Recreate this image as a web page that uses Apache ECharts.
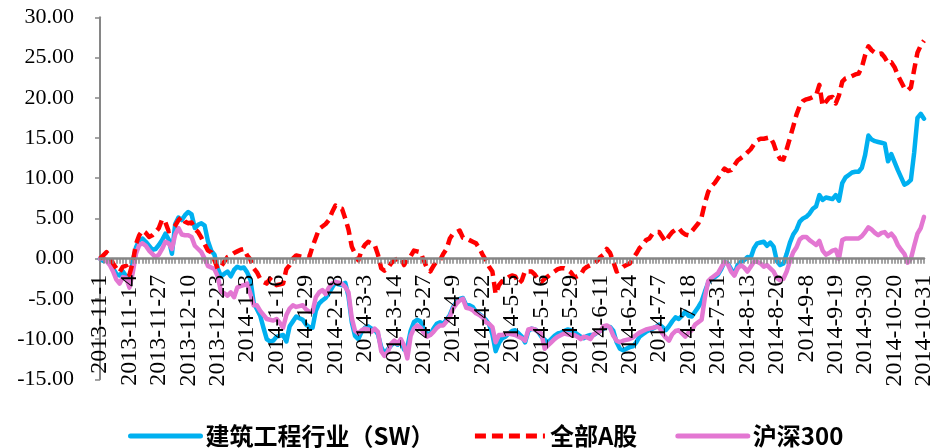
<!DOCTYPE html>
<html>
<head>
<meta charset="utf-8">
<script src="https://cdn.jsdelivr.net/npm/echarts@6/dist/echarts.min.js"></script>
<style>
  html, body { margin: 0; padding: 0; background: #ffffff; }
  #chart { width: 942px; height: 448px; }
</style>
</head>
<body>
<div id="chart"></div>
<script>
// Dates shown on the category axis (one every 9 trading days)
const tickLabels = ['2013-11-1','2013-11-14','2013-11-27','2013-12-10','2013-12-23','2014-1-3','2014-1-16','2014-1-29','2014-2-18','2014-3-3','2014-3-14','2014-3-27','2014-4-9','2014-4-22','2014-5-5','2014-5-16','2014-5-29','2014-6-11','2014-6-24','2014-7-7','2014-7-18','2014-7-31','2014-8-13','2014-8-26','2014-9-8','2014-9-19','2014-9-30','2014-10-20','2014-10-31'];

const seriesNames = ['建筑工程行业（SW）', '全部A股', '沪深300'];

// Cumulative return (%) — construction & engineering index (SW)
const construction = [
  0, -0.3, -0.2, -0.6, -1.2, -1.9, -2.1, -1.6, -2.2, -2.8,
  -0.4, 1.4, 2.3, 2.5, 2.1, 1.6, 1.1, 1.2, 1.7, 2.3,
  3.1, 2.4, 0.6, 4.3, 5.1, 4.8, 5.4, 5.8, 5.5, 3.8,
  4.2, 4.4, 4.1, 2.2, 1.0, 0.5, -1.2, -2.2, -1.9, -1.6,
  -2.2, -1.4, -1.0, -1.2, -1.1, -1.7, -2.6, -5.5, -6.3, -7.1,
  -8.6, -10.0, -10.3, -10.2, -9.7, -9.6, -9.5, -10.3, -8.4, -7.8,
  -7.2, -7.4, -7.6, -8.2, -8.5, -8.6, -6.5, -5.6, -5.2, -4.9,
  -4.3, -3.6, -2.9, -3.2, -3.3, -3.0, -4.7, -7.9, -9.6, -10.0,
  -9.1, -8.6, -8.4, -8.7, -8.8, -9.4, -11.0, -11.8, -11.3, -10.8,
  -10.4, -10.7, -10.2, -11.3, -11.0, -9.0, -7.9, -7.6, -7.8, -8.7,
  -9.3, -9.4, -8.7, -8.1, -7.9, -8.1, -7.6, -7.0, -6.0, -5.4,
  -5.0, -4.9, -5.8, -5.8, -6.0, -6.6, -6.9, -7.2, -7.6, -8.2,
  -9.4, -11.5, -10.5, -9.9, -9.7, -9.3, -9.0, -8.9, -9.3, -9.7,
  -10.4, -9.0, -8.7, -8.8, -9.1, -9.7, -10.1, -10.4, -10.0, -9.6,
  -9.3, -9.2, -9.0, -8.8, -8.9, -9.1, -9.4, -9.7, -9.9, -9.6,
  -9.5, -9.5, -9.2, -9.0, -8.7, -8.5, -8.5, -9.0, -10.4, -11.2,
  -11.4, -11.2, -11.0, -10.9, -10.4, -9.7, -9.4, -9.1, -8.9, -8.7,
  -8.5, -8.2, -8.5, -8.9, -8.4, -7.8, -7.3, -7.5, -7.1, -6.6,
  -7.1, -7.2, -6.6, -6.0, -5.3, -4.1, -3.0, -2.5, -2.3, -2.0,
  -1.3, -0.4, -0.6, -1.3, -2.0, -0.8, -0.4, -0.2, 0.2, 0.1,
  1.3, 1.9, 2.0, 2.1, 1.6, 2.0, 1.5, -0.3, -0.8, -0.6,
  0.6, 2.0, 3.0, 3.6, 4.6, 5.0, 5.2, 5.6, 6.2, 6.5,
  7.9, 7.3, 7.6, 7.5, 7.4, 7.9, 7.2, 9.4, 10.1, 10.4,
  10.7, 10.8, 10.8, 11.3, 12.9, 15.3, 14.8, 14.6, 14.5, 14.4,
  14.3, 12.1, 13.0, 12.0, 11.0, 10.1, 9.2, 9.4, 9.8, 13.2,
  17.5, 18.0, 17.4
];

// Cumulative return (%) — all A shares
const allAShares = [
  0, 0.4, 0.8, 0.3, -0.6, -1.2, -1.7, -1.0, -0.9, -2.0,
  -0.5, 1.8, 2.9, 3.5, 3.2, 2.7, 2.9, 3.3, 3.8, 4.9,
  4.5, 3.4, 3.6, 4.1, 4.8, 5.2, 4.6, 4.4, 4.5, 3.7,
  3.3, 2.6, 1.8, 1.0, 0.8, -0.2, -1.3, -1.0, -0.4, 0.2,
  0.4, 0.7, 0.9, 1.1, 1.2, 0.4, -0.1, -1.2, -1.7, -2.5,
  -2.9, -3.1, -2.5, -3.0, -3.3, -3.2, -3.1, -1.3, -0.8, 0,
  0.4, 0.3, 0.2, 0.3, 0.2, 1.5, 2.6, 3.7, 4.0, 4.3,
  4.8, 5.8, 6.6, 6.3, 6.2, 5.0, 3.6, 1.5, 0.6, -0.2,
  1.0, 1.7, 2.1, 1.9, 1.7, 0.5, -1.2, -1.5, -1.2, -0.6,
  -0.2, 0, 0.1, -0.8, 0, 0.3, 1.0, 0.9, 0.8, -0.2,
  -1.2, -1.6, -0.9, -0.3, -0.2, 0.6, 1.2, 2.5, 3.1, 3.3,
  3.5, 2.6, 2.5, 2.3, 2.1, 1.9, 1.3, 0.5, -0.2, -1.0,
  -1.6, -4.4, -3.3, -2.8, -2.6, -2.3, -2.1, -2.2, -3.1, -2.7,
  -1.5, -1.6, -1.6, -2.0, -2.6, -2.9, -2.5, -2.2, -1.9, -1.6,
  -1.3, -1.2, -1.2, -1.4, -1.7, -2.3, -2.2, -2.0, -1.3, -1.0,
  -0.8, -0.6, -0.3, 0.2, 0.5, 1.2, 0.7, -0.4, -1.6, -1.4,
  -1.0, -0.8, -0.6, 0, 0.6, 1.3, 1.7, 2.3, 2.5, 3.1,
  3.3, 3.3, 2.7, 2.1, 2.8, 3.3, 3.6, 3.8, 3.3, 3.0,
  2.9, 3.4, 3.9, 4.4, 5.2, 6.9, 8.3, 9.0, 9.4, 10.0,
  10.6, 11.2, 10.9, 11.0, 11.6, 12.2, 12.5, 12.8, 13.2, 13.6,
  14.2, 14.7, 14.9, 14.9, 15.0, 15.1, 14.3, 13.1, 12.4, 12.3,
  13.6, 15.0, 16.4, 17.9, 19.0, 19.6, 19.8, 19.9, 20.1, 20.3,
  21.6, 19.0, 19.5, 20.0, 20.1, 19.3, 20.3, 22.0, 22.4, 22.5,
  22.7, 22.9, 23.0, 23.8, 25.3, 26.4, 25.9, 25.6, 25.4, 25.5,
  25.0, 24.3, 24.4, 23.8, 22.8, 22.0, 21.2, 20.9, 21.3, 23.5,
  25.6, 26.5, 27.1
];

// Cumulative return (%) — CSI 300
const csi300 = [
  0, 0.1, -0.3, -0.8, -1.6, -2.6, -3.1, -2.3, -2.4, -3.6,
  -1.8, 0.6, 1.7, 1.9, 1.6, 1.0, 0.6, 0.2, 0.5, 1.2,
  2.1, 1.9, 1.2, 3.0, 3.8, 3.0, 2.9, 2.9, 2.7, 1.6,
  1.2, 0.8, 0, -0.9, -1.1, -1.3, -2.2, -4.1, -4.3, -4.6,
  -4.2, -4.8, -3.6, -3.4, -3.3, -3.1, -4.4, -5.8, -5.8, -6.5,
  -7.0, -7.5, -7.6, -7.7, -7.5, -8.0, -8.6, -7.0, -6.2, -5.8,
  -6.0, -5.9, -5.8, -6.3, -6.6, -6.6, -4.8, -4.2, -3.9, -4.4,
  -3.6, -3.1, -2.9, -3.0, -3.1, -3.5, -4.2, -7.4, -9.0, -9.3,
  -8.9, -8.7, -8.8, -9.1, -8.7, -9.1, -11.5, -12.1, -11.6, -10.6,
  -10.2, -10.6, -10.0, -10.8, -12.4, -9.6, -8.7, -8.3, -8.6, -9.2,
  -9.7, -9.5, -9.1, -8.6, -8.3, -8.3, -7.8, -7.2, -6.2, -5.6,
  -5.2, -5.0, -6.1, -6.2, -6.4, -6.8, -7.0, -7.3, -7.9, -8.1,
  -8.5, -10.4, -9.5, -9.5, -9.4, -9.3, -9.4, -9.5, -9.7, -9.9,
  -10.2, -8.8, -8.7, -8.8, -9.1, -9.3, -11.2, -10.8, -10.4, -10.0,
  -9.7, -9.5, -9.3, -9.4, -9.5, -9.5, -9.7, -10.0, -9.7, -9.8,
  -10.0, -9.4, -9.2, -9.0, -8.4, -8.3, -8.6, -9.6, -10.2, -10.4,
  -10.2, -10.1, -10.0, -9.8, -9.5, -9.2, -9.0, -8.8, -8.7, -8.6,
  -8.5, -8.5, -9.3, -9.8, -10.2, -9.4, -9.0, -8.9, -9.3, -9.7,
  -9.2, -8.9, -8.2, -7.9, -7.6, -4.8, -2.8, -2.4, -2.1, -1.8,
  -1.1, -0.4, -0.7, -1.6, -2.1, -1.2, -0.8, -1.1, -1.6, -1.0,
  -0.4, -0.4, -0.6, -1.0, -0.8, -1.2, -1.6, -2.4, -2.7, -2.5,
  -1.6, -0.3, 0.8, 1.4, 2.4, 2.7, 2.7, 2.3, 2.0, 1.7,
  2.2, 1.0, 0.5, 0.7, 1.0, 1.1, 0, 2.3, 2.5, 2.5,
  2.5, 2.5, 2.5, 2.8, 3.3, 3.9, 3.6, 3.2, 2.9, 3.2,
  3.3, 2.8, 3.1, 2.6, 1.7, 1.1, 0.6, -0.5, 0, 1.6,
  3.1, 3.8, 5.2
];

// Build the full daily category list: each labelled date is followed by
// 8 unlabelled trading days before the next labelled one.
function parseDate(s) {
  const p = s.split('-').map(Number);
  return new Date(Date.UTC(p[0], p[1] - 1, p[2]));
}
function fmtDate(d) {
  return d.getUTCFullYear() + '-' + (d.getUTCMonth() + 1) + '-' + d.getUTCDate();
}
const categories = [];
for (let k = 0; k < tickLabels.length; k++) {
  categories.push(tickLabels[k]);
  if (k === tickLabels.length - 1) break;
  const a = parseDate(tickLabels[k]).getTime();
  const b = parseDate(tickLabels[k + 1]).getTime();
  const gapDays = Math.round((b - a) / 86400000);
  for (let j = 1; j < 9; j++) {
    categories.push(fmtDate(new Date(a + Math.round(j * gapDays / 9) * 86400000)));
  }
}

const axisGray = '#868686';
const serif = '"Liberation Serif", "Times New Roman", serif';
const yMin = -15, yMax = 30;

const chart = echarts.init(document.getElementById('chart'), null, { renderer: 'canvas' });

chart.setOption({
  animation: false,
  backgroundColor: '#ffffff',
  grid: { left: 100, right: 18, top: 17.3, bottom: 68.7, containLabel: false, outerBoundsMode: 'none' },
  legend: {
    data: [seriesNames[0], seriesNames[1], seriesNames[2]],
    left: 123,
    top: 419,
    itemWidth: 70,
    itemHeight: 14,
    itemGap: 38,
    itemStyle: { opacity: 0 },
    lineStyle: { width: 5 },
    textStyle: {
      fontFamily: '"Noto Sans CJK SC", sans-serif',
      fontWeight: 'bold',
      fontSize: 24,
      color: '#000000'
    }
  },
  xAxis: {
    type: 'category',
    data: categories,
    boundaryGap: false,
    z: 3,
    axisLine: { onZero: false, lineStyle: { color: axisGray, width: 2.5 } },
    axisTick: { show: true, interval: 0, length: 5, lineStyle: { color: axisGray, width: 1.5 } },
    axisLabel: {
      interval: 8,
      rotate: 90,
      margin: 16,
      color: '#000000',
      fontFamily: serif,
      fontSize: 24
    },
    splitLine: { show: false }
  },
  yAxis: {
    type: 'value',
    min: yMin,
    max: yMax,
    interval: 5,
    axisLine: { show: true, lineStyle: { color: axisGray, width: 2 } },
    axisTick: { show: true, length: 5, lineStyle: { color: axisGray, width: 1.5 } },
    axisLabel: {
      margin: 26,
      color: '#000000',
      fontFamily: serif,
      fontSize: 22,
      formatter: v => v.toFixed(2)
    },
    splitLine: { show: false }
  },
  series: [
    {
      name: seriesNames[0],
      type: 'line',
      data: construction,
      showSymbol: false,
      symbol: 'none',
      z: 2,
      lineStyle: { color: '#00B0F0', width: 4.5, join: 'round', cap: 'round' },
      itemStyle: { color: '#00B0F0' }
    },
    {
      name: seriesNames[2],
      type: 'line',
      data: csi300,
      showSymbol: false,
      symbol: 'none',
      z: 2,
      lineStyle: { color: '#E377D2', width: 4.5, join: 'round', cap: 'round' },
      itemStyle: { color: '#E377D2' }
    },
    {
      name: seriesNames[1],
      type: 'line',
      data: allAShares,
      showSymbol: false,
      symbol: 'none',
      z: 2,
      lineStyle: { color: '#FF0000', width: 4.5, type: [11, 6], join: 'round', cap: 'butt' },
      itemStyle: { color: '#FF0000' }
    }
  ]
});

// Lift the category axis from the bottom of the grid up to the zero line.
const zeroPx = chart.convertToPixel({ yAxisIndex: 0 }, 0);
const bottomPx = chart.convertToPixel({ yAxisIndex: 0 }, yMin);
chart.setOption({ xAxis: { offset: -(bottomPx - zeroPx) } });
</script>
</body>
</html>
